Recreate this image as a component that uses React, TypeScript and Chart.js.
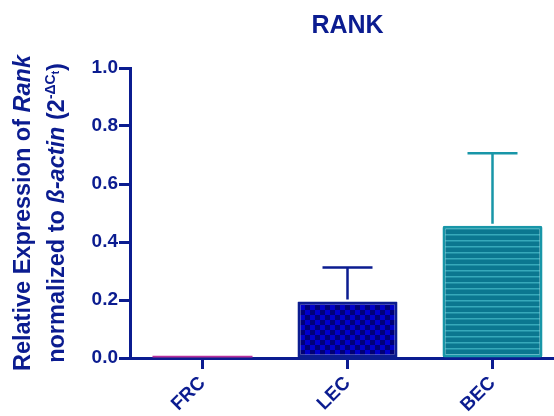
import React, { useEffect, useRef } from "react";
import { Chart, registerables } from "chart.js";

Chart.register(...registerables);

// ---- data ----
const categories = ["FRC", "LEC", "BEC"];
const means = [0.008, 0.195, 0.456];
const errors = [0, 0.117, 0.25];
const yMin = 0;
const yMax = 1.0;
const yStep = 0.2;
const chartTitle = "RANK";

// ---- styles ----
const NAVY = "#0b1c90";
const TEAL = "#1896a8";
const MAGENTA = "#b8309c";
const FONT = "'Liberation Sans', Arial, sans-serif";

function makeChecker(): CanvasPattern | string {
  const c = document.createElement("canvas");
  const s = 5;
  c.width = s * 2;
  c.height = s * 2;
  const g = c.getContext("2d");
  if (!g) return "#0000c0";
  g.fillStyle = "#0000cc";
  g.fillRect(0, 0, s * 2, s * 2);
  g.fillStyle = "#000078";
  g.fillRect(0, 0, s, s);
  g.fillRect(s, s, s, s);
  return g.createPattern(c, "repeat") || "#0000c0";
}

function makeStripes(): CanvasPattern | string {
  const c = document.createElement("canvas");
  c.width = 6;
  c.height = 6;
  const g = c.getContext("2d");
  if (!g) return "#0a7a8f";
  g.fillStyle = "#0b7790";
  g.fillRect(0, 0, 6, 6);
  g.fillStyle = "#36a9ba";
  g.fillRect(0, 0, 6, 1.5);
  return g.createPattern(c, "repeat") || "#0a7a8f";
}

const errColors = [MAGENTA, NAVY, TEAL];

const errorBarPlugin = {
  id: "errorBars",
  afterDatasetsDraw(chart: any) {
    const ctx = chart.ctx;
    const meta = chart.getDatasetMeta(0);
    const y = chart.scales.y;
    ctx.save();
    ctx.lineWidth = 2.5;
    meta.data.forEach((el: any, i: number) => {
      if (!errors[i]) return;
      const x = el.x;
      const yb = y.getPixelForValue(means[i]);
      const yt = y.getPixelForValue(means[i] + errors[i]);
      ctx.strokeStyle = errColors[i];
      ctx.beginPath();
      ctx.moveTo(x, yb - 2);
      ctx.lineTo(x, yt);
      ctx.moveTo(x - 25, yt);
      ctx.lineTo(x + 25, yt);
      ctx.stroke();
    });
    ctx.restore();
  },
};

const textPlugin = {
  id: "texts",
  afterDraw(chart: any) {
    const ctx = chart.ctx;
    const area = chart.chartArea;
    ctx.save();
    ctx.fillStyle = NAVY;
    // Title
    ctx.font = `bold 25px ${FONT}`;
    ctx.textAlign = "center";
    ctx.textBaseline = "alphabetic";
    ctx.fillText(chartTitle, (area.left + area.right) / 2, 33);

    // Y axis title (rotated, mixed styles)
    const cy = (area.top + area.bottom) / 2;
    type Seg = { t: string; f: string; dy?: number };
    const drawLine = (segs: Seg[], x: number) => {
      ctx.save();
      ctx.translate(x, cy);
      ctx.rotate(-Math.PI / 2);
      ctx.textAlign = "left";
      let total = 0;
      segs.forEach((s) => {
        ctx.font = s.f;
        total += ctx.measureText(s.t).width;
      });
      let px = -total / 2;
      segs.forEach((s) => {
        ctx.font = s.f;
        ctx.fillText(s.t, px, s.dy || 0);
        px += ctx.measureText(s.t).width;
      });
      ctx.restore();
    };
    const fn = `bold 23.5px ${FONT}`;
    const fi = `italic bold 23.5px ${FONT}`;
    const fs = `bold 14px ${FONT}`;
    const fss = `bold 10px ${FONT}`;
    drawLine(
      [
        { t: "Relative Expression of ", f: fn },
        { t: "Rank", f: fi },
      ],
      30
    );
    drawLine(
      [
        { t: "normalized to ", f: fn },
        { t: "ß-actin", f: fi },
        { t: " (2", f: fn },
        { t: "-ΔC", f: fs, dy: -9 },
        { t: "t", f: fss, dy: -5 },
        { t: ")", f: fn },
      ],
      64
    );
    ctx.restore();
  },
};

export default function App() {
  const ref = useRef<HTMLCanvasElement | null>(null);
  useEffect(() => {
    if (!ref.current) return;
    const checker = makeChecker();
    const stripes = makeStripes();
    const chart = new Chart(ref.current, {
      type: "bar",
      data: {
        labels: categories,
        datasets: [
          {
            data: means,
            backgroundColor: [MAGENTA, checker, stripes] as any,
            borderColor: [MAGENTA, NAVY, TEAL],
            borderWidth: [0, 3, 3],
            borderSkipped: false,
            borderRadius: [0, 1, 2],
            barPercentage: 0.69,
            categoryPercentage: 1,
          } as any,
        ],
      },
      options: {
        responsive: false,
        animation: false,
        layout: { padding: { top: 68, right: 7, left: 0, bottom: 0 } },
        plugins: {
          legend: { display: false },
          tooltip: { enabled: false },
          title: { display: false },
        },
        scales: {
          x: {
            offset: true,
            grid: {
              offset: false,
              drawOnChartArea: false,
              drawTicks: true,
              tickLength: 11,
              tickWidth: 3,
              color: NAVY,
            },
            border: { display: true, width: 3, color: NAVY },
            ticks: {
              color: NAVY,
              font: { family: FONT, size: 19, weight: "bold" },
              minRotation: 45,
              maxRotation: 45,
              padding: 3,
            },
            afterFit(scale: any) {
              scale.height = 58;
            },
          },
          y: {
            min: yMin,
            max: yMax,
            grid: {
              drawOnChartArea: false,
              drawTicks: true,
              tickLength: 11,
              tickWidth: 3,
              color: NAVY,
            },
            border: { display: true, width: 3, color: NAVY },
            ticks: {
              stepSize: yStep,
              color: NAVY,
              padding: 1,
              font: { family: FONT, size: 19, weight: "bold" },
              callback: (v: any) => Number(v).toFixed(1),
            },
            afterFit(scale: any) {
              scale.width = 130;
            },
          },
        },
      } as any,
      plugins: [errorBarPlugin, textPlugin],
    });
    return () => chart.destroy();
  }, []);
  return (
    <div
      style={{
        position: "absolute",
        left: 0,
        top: 0,
        width: 554,
        height: 416,
        overflow: "hidden",
        background: "#fff",
      }}
    >
      <canvas ref={ref} width={572} height={416} style={{ width: 572, height: 416, display: "block" }} />
    </div>
  );
}
